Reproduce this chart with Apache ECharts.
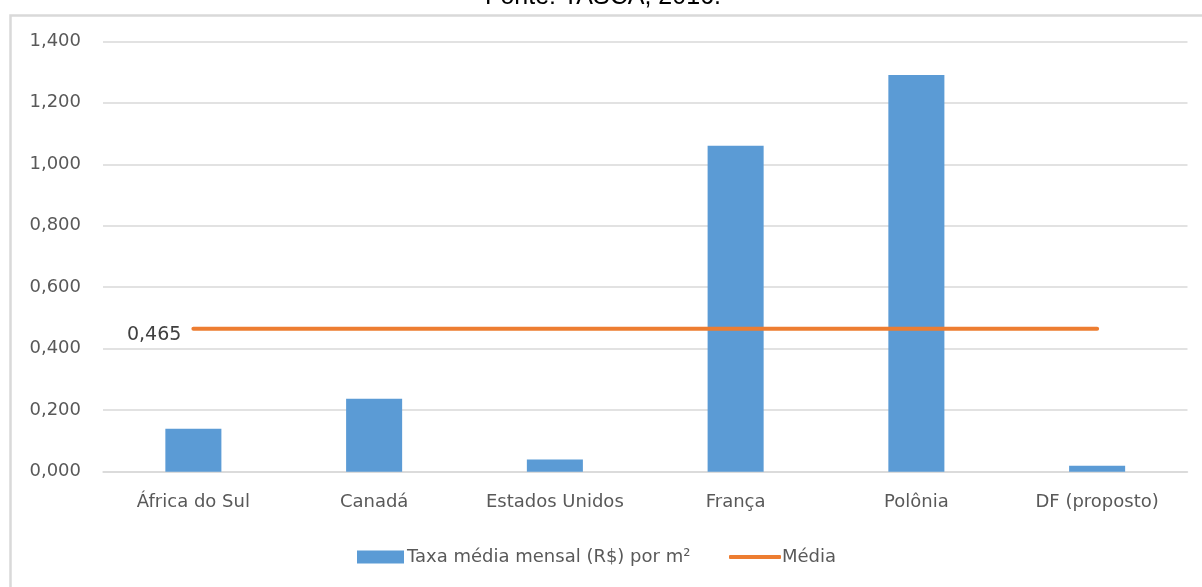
<!DOCTYPE html>
<html>
<head>
<meta charset="utf-8">
<script src="https://cdn.jsdelivr.net/npm/echarts@6/dist/echarts.min.js"></script>
<style>
  html, body { margin: 0; padding: 0; background: #fff; }
  #chart { width: 1202px; height: 587px; }
</style>
</head>
<body>
<div id="chart"></div>
<script>
// Monthly fee per m² by country and the overall average
const categories = ['África do Sul', 'Canadá', 'Estados Unidos', 'França', 'Polônia', 'DF (proposto)'];
const taxaValues = [0.140, 0.237, 0.040, 1.060, 1.290, 0.019];
const mediaValues = [0.465, 0.465, 0.465, 0.465, 0.465, 0.465];
const seriesNames = ['Taxa média mensal (R$) por m²', 'Média'];
const sourceText = 'Fonte: TASCA, 2016.';

const fmt = v => Number(v).toFixed(3).replace('.', ',');
const font = '"DejaVu Sans", "Noto Sans", sans-serif';
const labelGray = '#595959';

const chart = echarts.init(document.getElementById('chart'), null, { renderer: 'canvas' });

chart.setOption({
  animation: false,
  backgroundColor: '#fff',
  graphic: [
    {
      type: 'rect',
      left: 8, top: 13,
      shape: { x: 0, y: 0, width: 1210, height: 590 },
      style: { fill: 'none', stroke: '#D9D9D9', lineWidth: 2.5 },
      z: 0
    },
    {
      type: 'text',
      x: 603, y: 9.5,
      style: {
        text: sourceText,
        font: '25px "Liberation Sans", Arial, sans-serif',
        fill: '#000',
        textAlign: 'center',
        textVerticalAlign: 'bottom'
      }
    }
  ],
  grid: { left: 103, right: 14.5, top: 41.3, bottom: 115.3, containLabel: false },
  legend: [
    {
      left: 352,
      top: 543,
      itemWidth: 47,
      itemHeight: 13,
      itemGap: 0,
      textStyle: { color: labelGray, fontSize: 18, fontFamily: font, padding: [0, 0, 0, -2] },
      data: [{ name: seriesNames[0], icon: 'rect' }]
    },
    {
      left: 724,
      top: 543,
      itemWidth: 52,
      itemHeight: 4,
      itemGap: 0,
      textStyle: { color: labelGray, fontSize: 18, fontFamily: font, padding: [0, 0, 0, -4] },
      data: [{ name: seriesNames[1], icon: 'roundRect' }]
    }
  ],
  xAxis: {
    type: 'category',
    data: categories,
    axisLine: { lineStyle: { color: '#D9D9D9', width: 1.5 } },
    axisTick: { show: false },
    axisLabel: { color: labelGray, fontSize: 18, fontFamily: font, margin: 22 }
  },
  yAxis: {
    type: 'value',
    min: 0, max: 1.4, interval: 0.2,
    axisLine: { show: false },
    axisTick: { show: false },
    splitLine: { lineStyle: { color: '#D9D9D9', width: 1.5 } },
    axisLabel: { color: labelGray, fontSize: 18, fontFamily: font, margin: 22, formatter: fmt }
  },
  series: [
    {
      name: seriesNames[0],
      type: 'bar',
      data: taxaValues,
      barWidth: '31%',
      itemStyle: { color: '#5B9BD5' }
    },
    {
      name: seriesNames[1],
      type: 'line',
      data: mediaValues.map((v, i) => i === 0
        ? { value: v, label: { show: true, position: 'left', distance: 12, offset: [0, 6], formatter: p => fmt(p.value), color: '#404040', fontSize: 19, fontFamily: font } }
        : v),
      symbol: 'circle',
      symbolSize: 0.01,
      showSymbol: true,
      lineStyle: { color: '#ED7D31', width: 4, cap: 'round' },
      itemStyle: { color: '#ED7D31' },
      z: 3
    }
  ]
});
</script>
</body>
</html>
